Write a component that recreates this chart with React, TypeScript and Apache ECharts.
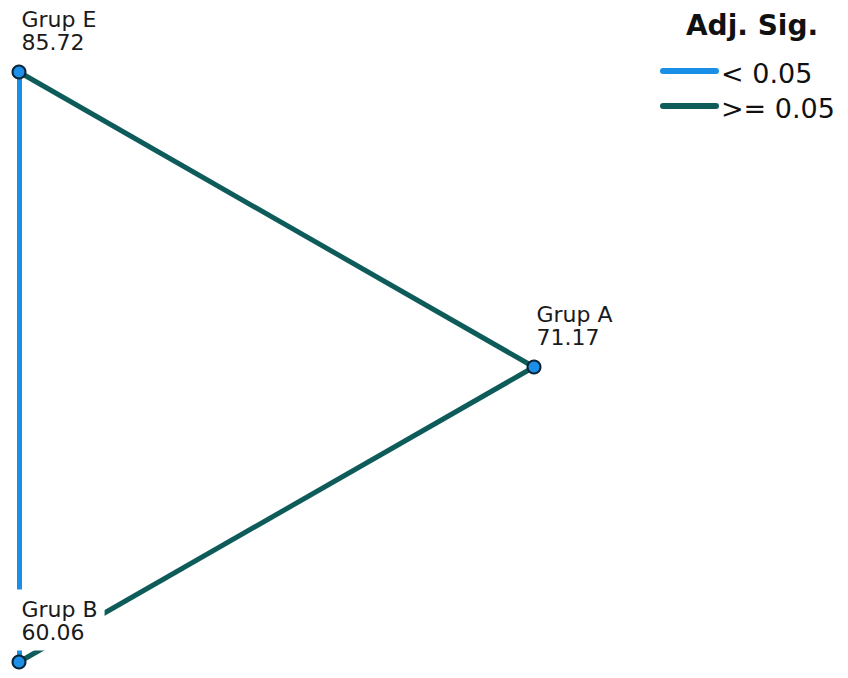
import React, { useEffect, useRef } from "react";
import * as echarts from "echarts";

// Nodes (groups) with their mean ranks
const groups = ["Grup E", "Grup A", "Grup B"];
const meanRanks = ["85.72", "71.17", "60.06"];
// Layout positions of the nodes in the network (abstract units)
const layoutX = [0, 1, 0];
const layoutY = [1, 0.5, 0];

// Pairwise comparisons: source, target, significance class
const pairSource = ["Grup E", "Grup E", "Grup A"];
const pairTarget = ["Grup B", "Grup A", "Grup B"];
const pairClass = ["< 0.05", ">= 0.05", ">= 0.05"];

// Legend
const legendTitle = "Adj. Sig.";
const legendLabels = ["< 0.05", ">= 0.05"];
const legendColors = ["#1a8fe6", "#0e5c5a"];

export default function App() {
  const ref = useRef<HTMLDivElement>(null);

  useEffect(() => {
    if (!ref.current) return;
    const chart = echarts.init(ref.current, undefined, { renderer: "svg" });

    const nodes = groups.map((g, i) => ({
      name: g,
      value: [layoutX[i], layoutY[i]],
    }));
    const links = pairSource.map((s, i) => ({
      source: s,
      target: pairTarget[i],
      lineStyle: {
        color: legendColors[legendLabels.indexOf(pairClass[i])],
        width: 5,
        opacity: 1,
        curveness: 0,
      },
    }));

    const font = "DejaVu Sans";

    chart.setOption({
      animation: false,
      backgroundColor: "#ffffff",
      grid: { left: 19, right: 314, top: 72, bottom: 16 },
      xAxis: { type: "value", min: 0, max: 1, show: false },
      yAxis: { type: "value", min: 0, max: 1, show: false },
      series: [
        {
          type: "graph",
          coordinateSystem: "cartesian2d",
          layout: "none",
          symbol: "circle",
          symbolSize: 13,
          itemStyle: { color: "#1c8fe8", borderColor: "#0b2536", borderWidth: 2 },
          data: nodes,
          links: links,
          edgeSymbol: ["none", "none"],
          label: {
            show: true,
            position: [3, -4],
            align: "left",
            verticalAlign: "bottom",
            formatter: (p: any) => `${p.name}\n${meanRanks[groups.indexOf(p.name)]}`,
            fontFamily: font,
            fontSize: 22,
            lineHeight: 23,
            color: "#1a1a1a",
            backgroundColor: "#ffffff",
            padding: [8, 7, 7, 7],
          },
          emphasis: { disabled: true },
          z: 2,
        },
      ],
      graphic: [
        {
          type: "text",
          x: 752,
          y: 25,
          style: {
            text: legendTitle,
            fontFamily: font,
            fontSize: 28,
            fontWeight: "bold",
            fill: "#111111",
            align: "center",
            verticalAlign: "middle",
          },
        },
        ...legendLabels.flatMap((lab, i) => [
          {
            type: "line",
            shape: { x1: 663, y1: 71 + i * 35, x2: 716, y2: 71 + i * 35 },
            style: { stroke: legendColors[i], lineWidth: 6, lineCap: "round" },
          },
          {
            type: "text",
            x: 721,
            y: 73 + i * 35,
            style: {
              text: lab,
              fontFamily: font,
              fontSize: 27,
              fill: "#111111",
              align: "left",
              verticalAlign: "middle",
            },
          },
        ]),
      ],
    });

    return () => chart.dispose();
  }, []);

  return (
    <div
      ref={ref}
      style={{ position: "fixed", left: 0, top: 0, width: 848, height: 678 }}
    />
  );
}
